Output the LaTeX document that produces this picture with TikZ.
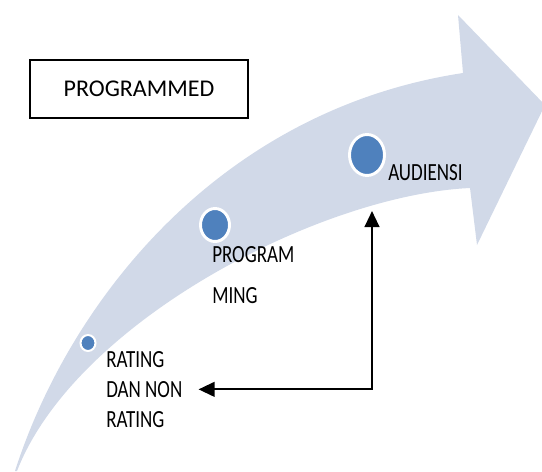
\documentclass[tikz,border=0pt]{standalone}
\usepackage{fontspec}
\setmainfont{Carlito}
\newfontfamily\narrowfont[FakeStretch=0.77]{Carlito}
\usetikzlibrary{arrows.meta,shapes.geometric}
\definecolor{bandblue}{RGB}{209,217,232}
\definecolor{dotblue}{RGB}{79,129,189}
\begin{document}
\begin{tikzpicture}
[x=0.75pt, y=-0.75pt,
 dot/.style={ellipse, draw=white, line width=2.2pt, fill=dotblue, inner sep=0},
 lbl/.style={anchor=north west, inner sep=0, align=left, font=\narrowfont\fontsize{18.5}{22.5}\selectfont},
 link/.style={{Triangle[length=12pt,width=11pt]}-{Triangle[length=12pt,width=11pt]}, line width=1.6pt}]
\useasboundingbox (0,0) rectangle (542,471);
\fill[bandblue] (15,471) .. controls (70,300) and (220,110) .. (463,73) -- (458,15) -- (545,105)
  -- (477,245) -- (470,188) .. controls (320,195) and (75,322) .. (17,471) -- cycle;
\node[draw, line width=1.1pt, minimum width=163.5pt, minimum height=43.5pt,
  font=\fontsize{18}{21}\selectfont] (title) at (139,89) {PROGRAMMED};
\node[dot, line width=1.5pt, minimum width=11.25pt, minimum height=12pt] (d1) at (88,343) {};
\node[dot, minimum width=21.75pt, minimum height=24.75pt] (d2) at (215,225) {};
\node[dot, minimum width=26.25pt, minimum height=30.75pt] (d3) at (367,155) {};
\node[lbl] (rating) at (106,351) {RATING\\DAN NON\\RATING};
\node[lbl, font=\narrowfont\fontsize{18.5}{30.75}\selectfont] (prgm) at (212,246) {PROGRAM\\MING};
\node[lbl] (aud) at (388,164) {AUDIENSI};
\coordinate (audtip) at (372,211);
\draw[link] (audtip) |- ([xshift=12pt]rating.east);
\end{tikzpicture}
\end{document}
